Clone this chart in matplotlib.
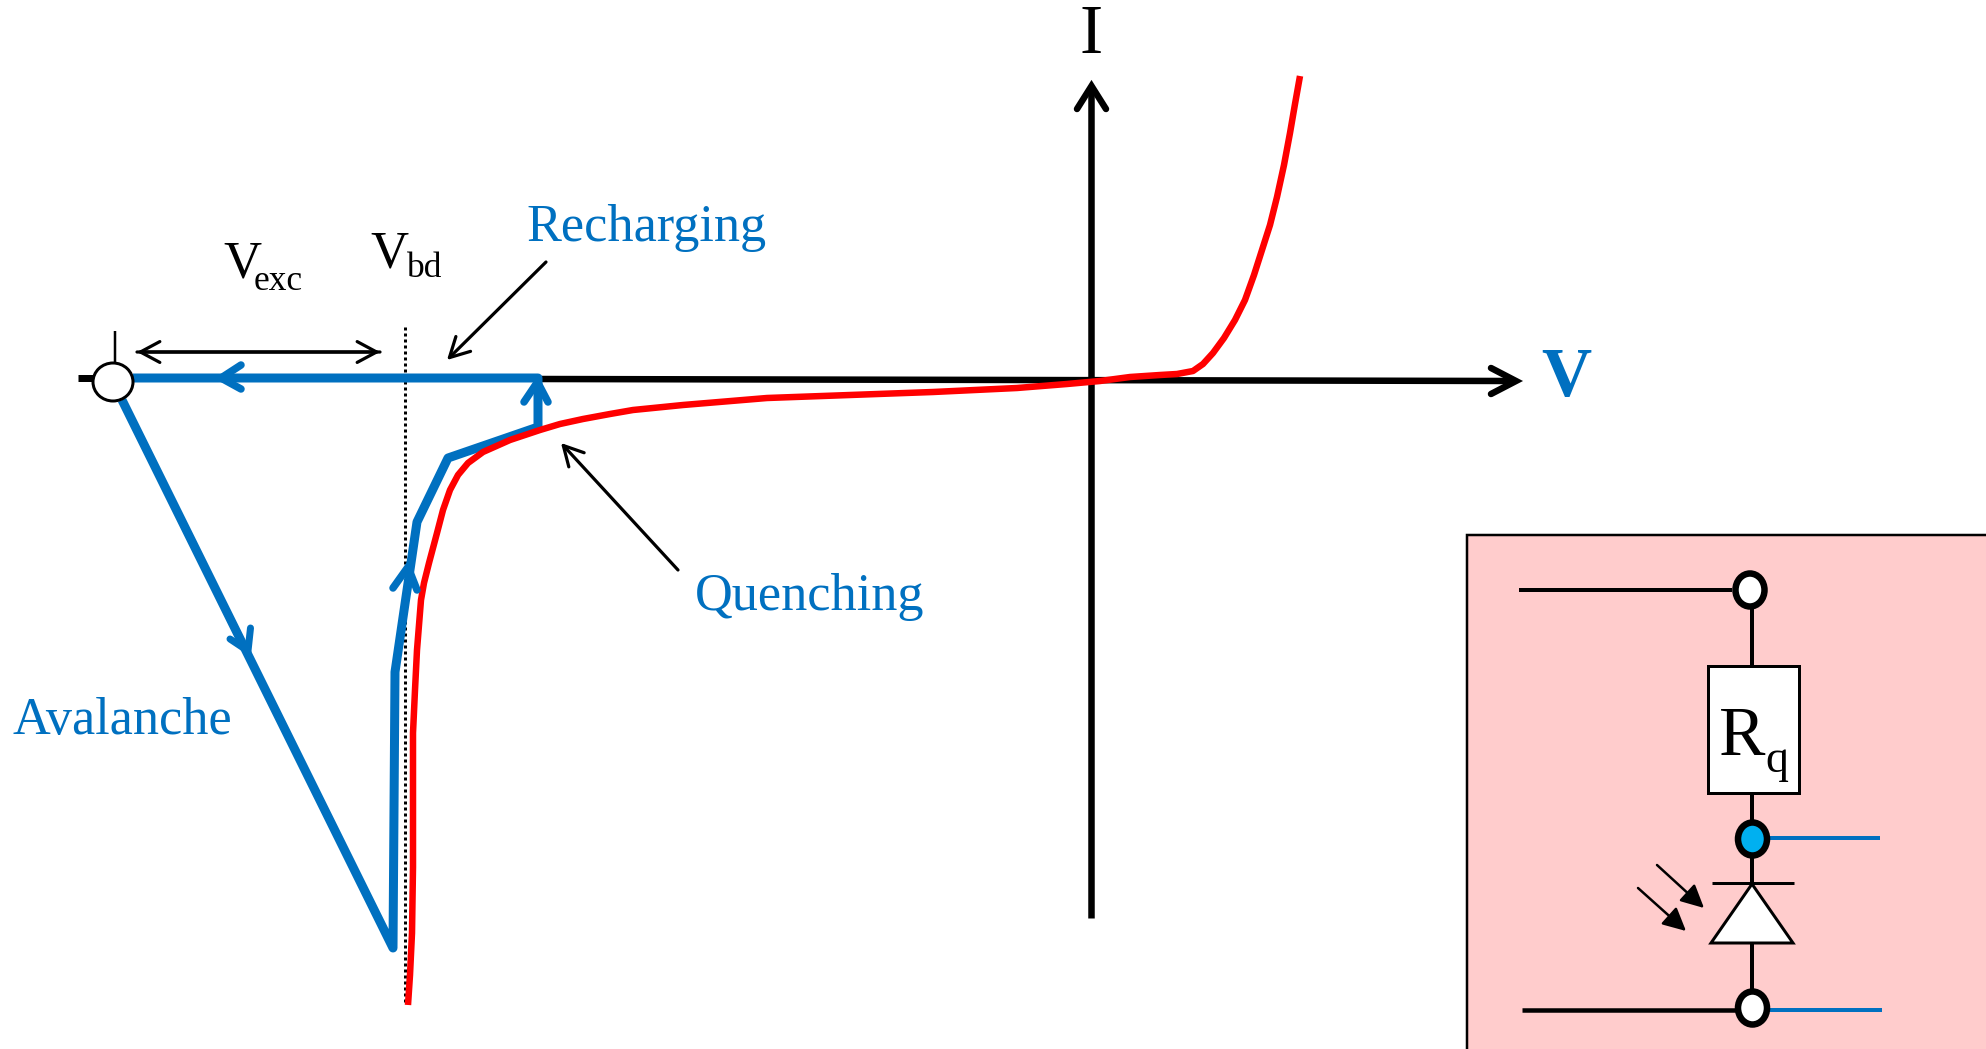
import matplotlib
matplotlib.use("Agg")
import matplotlib.pyplot as plt
from matplotlib.patches import Ellipse, Rectangle, Polygon

red_x = [1300, 1295, 1290, 1284, 1277, 1270, 1262, 1254, 1245, 1235, 1224, 1213, 1203, 1193, 1177, 1160, 1130, 1100, 1067,
         1017, 933, 850, 767, 683, 633, 610, 583, 560, 540, 510, 483, 468, 458, 450, 443, 437, 429, 424,
         421, 417, 415, 413, 413, 412, 410, 408]
red_y = [76, 104, 133, 165, 197, 225, 250, 275, 300, 320, 338, 353, 364, 371, 374, 375, 377, 381, 384,
         388, 392, 395, 398, 405, 410, 414, 419, 424, 430, 440, 452, 463, 475, 490, 510, 533, 563, 583,
         600, 650, 690, 733, 867, 933, 975, 1005]
blue_x = [133, 538, 538, 448, 417, 395, 393, 122]
blue_y = [378, 378, 427, 458, 522, 672, 948, 400]

blue = "#0070C0"
red = "#FF0000"
pink = "#FFCCCC"
cyan = "#00B0F0"
serif = "Liberation Serif"


def line(xs, ys, lw_px, color="black", **kw):
    kw.setdefault("solid_capstyle", "butt")
    ax.plot(xs, ys, color=color, lw=lw_px * 0.72, **kw)


def head(xs, ys, lw_px, color):
    line(xs, ys, lw_px, color, solid_capstyle="round", solid_joinstyle="miter", zorder=6)


def open_arrow(x0, y0, x1, y1, lw_px=3.2):
    ax.annotate("", xy=(x1, y1), xytext=(x0, y0),
                arrowprops=dict(arrowstyle="->,head_length=1.4,head_width=0.75",
                                color="black", lw=lw_px * 0.72, shrinkA=0, shrinkB=0))


def node(x, y, rx, ry, face, lw_px):
    ax.add_patch(Ellipse((x, y), rx * 2, ry * 2, fc=face, ec="black", lw=lw_px * 0.72, zorder=8))


fig = plt.figure(figsize=(19.86, 10.49), dpi=100)
ax = fig.add_axes([0, 0, 1, 1])
ax.set_xlim(0, 1986)
ax.set_ylim(1049, 0)
ax.axis("off")

# axes of the IV plot
line([1091, 1091], [918, 88], 6.5)
head([1077, 1091.5, 1106], [109, 86, 109], 6.5, "black")
line([538, 1512], [379, 381], 6.5)
head([1491, 1516, 1491], [368, 381, 394], 6.5, "black")
line([78, 96], [378, 378], 7)
line([114.5, 114.5], [331, 364], 2.5)

# breakdown marker
line([405, 405], [327, 1005], 3, linestyle=(0, (1, 1)))

# cycle and diode curve
line(blue_x, blue_y, 9, blue, solid_joinstyle="round", zorder=4)
line(red_x, red_y, 6.5, red, solid_joinstyle="round", zorder=5)

# direction marks on the cycle
head([241, 221, 241], [365, 378, 389], 7.5, blue)
head([524, 537.5, 548], [402, 382, 402], 7.5, blue)
head([393, 408, 417], [588, 567, 590], 7.5, blue)
head([230, 248, 250.5], [639, 651, 628], 7, blue)

node(113, 382, 20, 19, "white", 3)

# dimension and call-out arrows
open_arrow(137, 352, 380, 352)
open_arrow(380, 352, 137, 352)
open_arrow(546, 262, 447, 360)
open_arrow(678, 570, 561, 443)

ax.text(647, 228, "Recharging", family=serif, fontsize=37.6, color=blue, ha="center", va="center")
ax.text(810, 597, "Quenching", family=serif, fontsize=37.6, color=blue, ha="center", va="center")
ax.text(122, 721, "Avalanche", family=serif, fontsize=37.6, color=blue, ha="center", va="center")
ax.text(1566, 379, "V", family=serif, fontsize=50, weight="bold", color=blue, ha="center", va="center")
ax.text(1091, 36, "I", family=serif, fontsize=50, color="black", ha="center", va="center")
ax.text(223, 278, "V", family=serif, fontsize=38, ha="left", va="baseline")
ax.text(254, 290, "exc", family=serif, fontsize=25.5, ha="left", va="baseline")
ax.text(370, 267, "V", family=serif, fontsize=38, ha="left", va="baseline")
ax.text(407, 277, "bd", family=serif, fontsize=25.5, ha="left", va="baseline")

# inset with the circuit
ax.add_patch(Rectangle((1467, 535), 530, 530, fc=pink, ec="black", lw=2.5 * 0.72, zorder=1))
line([1519, 1732], [590, 590], 4)
line([1751.5, 1751.5], [590, 840], 4, zorder=2)
line([1751.5, 1751.5], [840, 1008], 4, zorder=2)
ax.add_patch(Rectangle((1708, 666), 90.5, 127, fc="white", ec="black", lw=3 * 0.72, zorder=3))
ax.text(1719, 755, "R", family=serif, fontsize=50, ha="left", va="baseline", zorder=4)
ax.text(1765, 772, "q", family=serif, fontsize=33, ha="left", va="baseline", zorder=4)
line([1712, 1794], [882.5, 882.5], 3, zorder=4)
ax.add_patch(Polygon([(1752, 884), (1711, 943), (1793, 943)], closed=True, fc="white", ec="black", lw=3 * 0.72, zorder=3))
line([1522, 1740], [1009.5, 1009.5], 4.5)
line([1765, 1880], [838, 838], 4, blue, zorder=3)
line([1765, 1882], [1009.5, 1009.5], 4, blue, zorder=3)
node(1750, 590, 14.5, 16.5, "white", 6.5)
node(1752.5, 839, 14.5, 16.5, cyan, 6.5)
node(1752.5, 1008, 14.5, 16.5, "white", 6.5)
for x0, y0, x1, y1 in [(1657, 865, 1704, 908), (1638, 888, 1686, 931)]:
    ax.annotate("", xy=(x1, y1), xytext=(x0, y0),
                arrowprops=dict(arrowstyle="-|>,head_length=1.0,head_width=0.5", color="black",
                                lw=2.5 * 0.72, shrinkA=0, shrinkB=0, mutation_scale=14))

fig.savefig("out.png", dpi=100, facecolor="white")
